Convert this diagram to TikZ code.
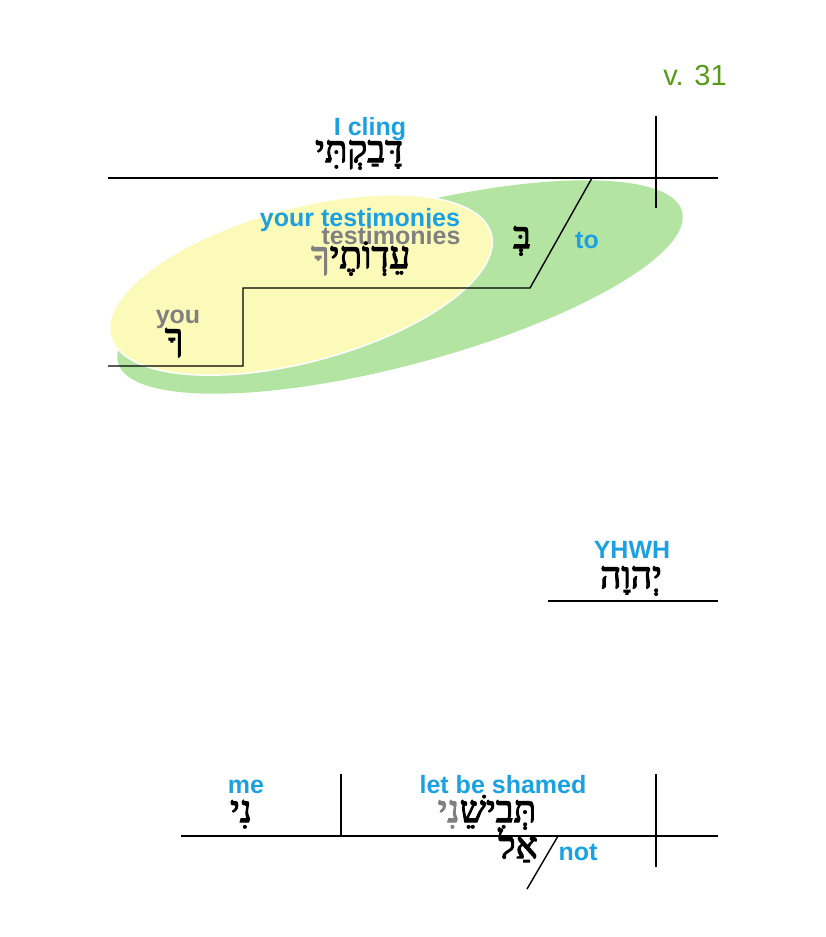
\documentclass[tikz,border=0pt]{standalone}
\usepackage{fontspec}
\setmainfont{Liberation Sans}
\newfontfamily\hebfont[Script=Hebrew, BoldFont={Liberation Serif}, BoldFeatures={FakeBold=3}]{Liberation Serif}
\TeXXeTstate=1
\definecolor{glossblue}{RGB}{27,161,226}
\definecolor{glossgray}{RGB}{128,128,128}
\definecolor{versegreen}{RGB}{90,154,27}
\definecolor{outerfill}{RGB}{180,228,162}
\definecolor{innerfill}{RGB}{252,250,185}

\begin{document}
\begin{tikzpicture}[x=1pt, y=-1pt,
gloss/.style={text=glossblue, font=\fontsize{25}{30}\selectfont\bfseries, inner sep=0pt, anchor=base},
grayword/.style={text=glossgray, font=\fontsize{25}{30}\selectfont\bfseries, inner sep=0pt, anchor=base},
hebword/.style={font=\fontsize{37}{44}\selectfont\hebfont\bfseries, inner sep=0pt, anchor=base},
rule/.style={line width=1.4pt}
]
    \useasboundingbox (0,0) rectangle (825,937);

    % ovals behind the lines
    \fill[outerfill, rotate around={15:(400,287)}] (400,287) ellipse [x radius=292, y radius=78];
    \filldraw[fill=innerfill, draw=white, line width=1.5pt, rotate around={15:(301,285)}] (301,285) ellipse [x radius=197, y radius=77];

    \node[text=versegreen, font=\fontsize{29}{34}\selectfont, inner sep=0pt, anchor=base] (verse) at (695,85) {v. 31};

    % main clause
    \coordinate (clingL) at (108,178);
    \coordinate (clingR) at (718,178);
    \coordinate (divT) at (656,116);
    \coordinate (divB) at (656,208);
    \draw[rule] (clingL) -- (clingR);
    \draw[rule] (divT) -- (divB);
    \node[gloss] (cling) at (370,135) {I cling};
    \node[hebword] (clingheb) at (359,162) {\beginR דָּבַקְתִּי\endR};

    % prepositional phrase
    \coordinate (youL) at (108,366);
    \coordinate (youR) at (243,366);
    \coordinate (stepT) at (243,288);
    \coordinate (prepR) at (530,288);
    \coordinate (prepT) at (592,178);
    \draw[rule] (youL) -- (youR) -- (stepT) -- (prepR) -- (prepT);
    \node[hebword] (prep) at (522,248) {\beginR בְּ\endR};
    \node[gloss] (to) at (587,248) {to};
    \node[gloss] (testim) at (360,226) {your testimonies};
    \node[grayword] (testimgray) at (391,244) {testimonies};
    \node[hebword] (testimheb) at (370,268) {\beginR עֵדְוֹתֶי\endR};
    \node[hebword, text=glossgray, anchor=base east] (testimsuf) at (testimheb.base west) {\beginR ךָ\endR};
    \node[grayword] (you) at (178,323) {you};
    \node[hebword] (youheb) at (174,350) {\beginR ךָ\endR};

    % vocative
    \coordinate (yhwhL) at (548,601);
    \coordinate (yhwhR) at (718,601);
    \draw[rule] (yhwhL) -- (yhwhR);
    \node[gloss] (yhwh) at (632,558) {YHWH};
    \node[hebword] (yhwhheb) at (631,588) {\beginR יְהוָה\endR};

    % second clause
    \coordinate (shameL) at (181,836);
    \coordinate (shameR) at (718,836);
    \coordinate (objT) at (341,774);
    \coordinate (objB) at (341,836);
    \coordinate (div2T) at (656,774);
    \coordinate (div2B) at (656,867);
    \coordinate (notT) at (558,836);
    \coordinate (notB) at (527,889);
    \draw[rule] (shameL) -- (shameR);
    \draw[rule] (objT) -- (objB);
    \draw[rule] (div2T) -- (div2B);
    \draw[rule] (notT) -- (notB);
    \node[gloss] (me) at (246,793) {me};
    \node[hebword] (meheb) at (241,822) {\beginR נִי\endR};
    \node[gloss] (shamed) at (503,793) {let be shamed};
    \node[hebword] (shamedheb) at (498,822) {\beginR תְּבִישֵׁ\endR};
    \node[hebword, text=glossgray, anchor=base east] (shamedsuf) at (shamedheb.base west) {\beginR נִי\endR};
    \node[hebword] (notheb) at (518,858) {\beginR אַל\endR};
    \node[gloss] (not) at (578,860) {not};
\end{tikzpicture}
\end{document}
